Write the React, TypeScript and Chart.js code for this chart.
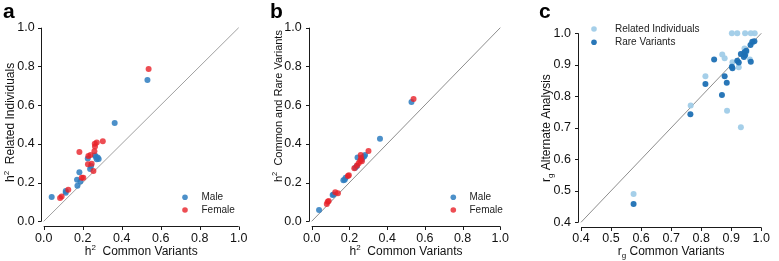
import React, { useEffect, useRef } from 'react';
import { Chart, registerables } from 'chart.js';

Chart.register(...registerables);

const FONT = 'Liberation Sans, Arial, Helvetica, sans-serif';

// ---------- Panel a : h2 Related Individuals vs h2 Common Variants ----------
const aMaleX = [0.041, 0.113, 0.113, 0.171, 0.173, 0.183, 0.188, 0.226, 0.238, 0.243, 0.263, 0.268, 0.272, 0.282, 0.277, 0.364, 0.532];
const aMaleY = [0.126, 0.157, 0.147, 0.215, 0.183, 0.253, 0.205, 0.325, 0.27, 0.286, 0.34, 0.332, 0.32, 0.322, 0.33, 0.508, 0.73];
const aFemaleX = [0.084, 0.092, 0.126, 0.183, 0.195, 0.203, 0.229, 0.24, 0.227, 0.246, 0.255, 0.26, 0.263, 0.262, 0.272, 0.303, 0.538];
const aFemaleY = [0.12, 0.128, 0.163, 0.358, 0.225, 0.225, 0.337, 0.342, 0.295, 0.297, 0.26, 0.362, 0.386, 0.4, 0.407, 0.413, 0.787];

// ---------- Panel b : h2 Common and Rare Variants vs h2 Common Variants ----------
const bMaleX = [0.039, 0.111, 0.116, 0.168, 0.175, 0.18, 0.231, 0.24, 0.243, 0.266, 0.27, 0.283, 0.278, 0.362, 0.529];
const bMaleY = [0.058, 0.136, 0.138, 0.212, 0.215, 0.225, 0.277, 0.285, 0.33, 0.32, 0.33, 0.343, 0.335, 0.427, 0.616];
const bFemaleX = [0.08, 0.085, 0.09, 0.125, 0.139, 0.192, 0.197, 0.226, 0.24, 0.249, 0.257, 0.262, 0.26, 0.266, 0.301, 0.54];
const bFemaleY = [0.09, 0.101, 0.105, 0.15, 0.145, 0.234, 0.238, 0.274, 0.288, 0.3, 0.313, 0.326, 0.343, 0.31, 0.363, 0.632];

// ---------- Panel c : rg Alternate Analysis vs rg Common Variants ----------
const cRelatedX = [0.575, 0.765, 0.814, 0.87, 0.878, 0.886, 0.902, 0.92, 0.946, 0.965, 0.978, 0.904, 0.925, 0.932, 0.944, 0.962, 0.95, 0.97];
const cRelatedY = [0.49, 0.771, 0.864, 0.933, 0.921, 0.754, 1.0, 1.0, 1.0, 1.0, 1.0, 0.908, 0.892, 0.702, 0.952, 0.917, 0.94, 0.97];
const cRareX = [0.575, 0.764, 0.814, 0.843, 0.869, 0.878, 0.885, 0.902, 0.904, 0.92, 0.925, 0.932, 0.944, 0.946, 0.942, 0.965, 0.964, 0.97, 0.977, 0.95];
const cRareY = [0.458, 0.743, 0.839, 0.917, 0.804, 0.864, 0.843, 0.894, 0.889, 0.913, 0.907, 0.934, 0.94, 0.93, 0.925, 0.91, 0.963, 0.973, 0.975, 0.945];

const abRange = [0, 1];
const cRange = [0.4, 1];

const MALE = 'rgba(45,125,192,0.85)';
const FEMALE = 'rgba(232,32,40,0.8)';
const RELATED = 'rgba(160,204,232,0.95)';
const RARE = 'rgba(30,112,180,0.95)';

const pts = (xs: number[], ys: number[]) => xs.map((x, i) => ({ x, y: ys[i] }));

type Part = { t: string; s: number; dy?: number };

function drawRich(ctx: CanvasRenderingContext2D, parts: Part[], x: number, y: number, rotate: boolean, align: 'center' | 'left') {
  ctx.save();
  ctx.translate(x, y);
  if (rotate) ctx.rotate(-Math.PI / 2);
  ctx.textBaseline = 'alphabetic';
  ctx.textAlign = 'left';
  let total = 0;
  for (const p of parts) {
    ctx.font = `${p.s}px ${FONT}`;
    total += ctx.measureText(p.t).width;
  }
  let cx = align === 'center' ? -total / 2 : 0;
  for (const p of parts) {
    ctx.font = `${p.s}px ${FONT}`;
    ctx.fillText(p.t, cx, p.dy || 0);
    cx += ctx.measureText(p.t).width;
  }
  ctx.restore();
}

interface LegendItem { label: string; color: string; y: number }

interface PanelCfg {
  left: number;
  width: number;
  letter: string;
  letterX: number;
  area: { left: number; right: number; top: number; bottom: number };
  range: number[];
  step: number;
  datasets: any[];
  xTitle: Part[];
  xTitleY: number;
  yTitle: Part[];
  yTitleX: number;
  yTitleStart: number;
  legend: LegendItem[];
  legendDotX: number;
  legendTextX: number;
  yTickPad: number;
  xTickPad: number;
  offL: number;
  offB: number;
}

const H = 261;

function Panel({ cfg }: { cfg: PanelCfg }) {
  const ref = useRef<HTMLCanvasElement | null>(null);
  useEffect(() => {
    const canvas = ref.current!;
    const decor = {
      id: 'decor',
      afterDraw(chart: any) {
        const ctx: CanvasRenderingContext2D = chart.ctx;
        const xs = chart.scales.x;
        const ys = chart.scales.y;
        const ca = chart.chartArea;
        ctx.save();
        ctx.strokeStyle = '#1a1a1a';
        ctx.lineWidth = 1;
        // y spine
        const sx = Math.round(ca.left - cfg.offL) + 0.5;
        const yTop = ys.getPixelForValue(cfg.range[1]);
        const yBot = ys.getPixelForValue(cfg.range[0]);
        ctx.beginPath();
        ctx.moveTo(sx, yTop);
        ctx.lineTo(sx, yBot);
        for (const t of ys.ticks) {
          const py = Math.round(ys.getPixelForValue(t.value)) + 0.5;
          ctx.moveTo(sx, py);
          ctx.lineTo(sx - 3.5, py);
        }
        ctx.stroke();
        // x spine
        const sy = Math.round(ca.bottom + cfg.offB) + 0.5;
        const xL = xs.getPixelForValue(cfg.range[0]);
        const xR = xs.getPixelForValue(cfg.range[1]);
        ctx.beginPath();
        ctx.moveTo(xL, sy);
        ctx.lineTo(xR, sy);
        for (const t of xs.ticks) {
          const px = Math.round(xs.getPixelForValue(t.value)) + 0.5;
          ctx.moveTo(px, sy);
          ctx.lineTo(px, sy + 3.5);
        }
        ctx.stroke();
        // titles
        ctx.fillStyle = '#111';
        drawRich(ctx, cfg.xTitle, (ca.left + ca.right) / 2, cfg.xTitleY, false, 'center');
        drawRich(ctx, cfg.yTitle, cfg.yTitleX, cfg.yTitleStart, true, 'left');
        // legend
        for (const it of cfg.legend) {
          ctx.beginPath();
          ctx.fillStyle = it.color;
          ctx.arc(cfg.legendDotX, it.y, 2.8, 0, Math.PI * 2);
          ctx.fill();
          ctx.fillStyle = '#222';
          ctx.font = `10px ${FONT}`;
          ctx.textBaseline = 'middle';
          ctx.textAlign = 'left';
          ctx.fillText(it.label, cfg.legendTextX, it.y);
        }
        // panel letter
        ctx.fillStyle = '#000';
        ctx.font = `bold 21px ${FONT}`;
        ctx.textBaseline = 'alphabetic';
        ctx.textAlign = 'left';
        ctx.fillText(cfg.letter, cfg.letterX, 17.5);
        ctx.restore();
      },
    };
    const tickFont = { family: FONT, size: 12.5 };
    const chart = new Chart(canvas, {
      type: 'scatter',
      data: { datasets: cfg.datasets },
      options: {
        responsive: false,
        animation: false,
        devicePixelRatio: 1,
        layout: { padding: { left: 0, right: cfg.width - cfg.area.right, top: cfg.area.top, bottom: 0 } },
        plugins: { legend: { display: false }, tooltip: { enabled: false }, title: { display: false } },
        scales: {
          x: {
            type: 'linear',
            min: cfg.range[0],
            max: cfg.range[1],
            border: { display: false },
            grid: { display: false, drawTicks: false },
            ticks: {
              stepSize: cfg.step,
              padding: cfg.xTickPad,
              font: tickFont,
              color: '#111',
              maxRotation: 0,
              autoSkip: false,
              callback: (v: any) => Number(v).toFixed(1),
            },
            afterFit: (s: any) => {
              s.height = H - cfg.area.bottom;
            },
          },
          y: {
            type: 'linear',
            min: cfg.range[0],
            max: cfg.range[1],
            border: { display: false },
            grid: { display: false, drawTicks: false },
            ticks: {
              stepSize: cfg.step,
              padding: cfg.yTickPad,
              font: tickFont,
              color: '#111',
              autoSkip: false,
              callback: (v: any) => Number(v).toFixed(1),
            },
            afterFit: (s: any) => {
              s.width = cfg.area.left;
            },
          },
        },
      } as any,
      plugins: [decor],
    });
    return () => chart.destroy();
  }, [cfg]);
  return (
    <canvas
      ref={ref}
      width={cfg.width}
      height={H}
      style={{ position: 'absolute', left: cfg.left, top: 0, width: cfg.width, height: H }}
    />
  );
}

const diag = (r: number[], color: string, w: number) => ({
  data: [
    { x: r[0], y: r[0] },
    { x: r[1], y: r[1] },
  ],
  showLine: true,
  borderColor: color,
  borderWidth: w,
  pointRadius: 0,
  clip: false,
  order: 5,
});

const dots = (data: { x: number; y: number }[], color: string, order: number) => ({
  data,
  backgroundColor: color,
  borderWidth: 0,
  pointRadius: 3,
  clip: false,
  order,
});

const panelA: PanelCfg = {
  left: 0,
  width: 260,
  letter: 'a',
  letterX: 3,
  area: { left: 43.7, right: 238.7, top: 27.7, bottom: 221.3 },
  range: abRange,
  step: 0.2,
  datasets: [diag(abRange, '#a0a0a0', 1), dots(pts(aMaleX, aMaleY), MALE, 2), dots(pts(aFemaleX, aFemaleY), FEMALE, 1)],
  xTitle: [{ t: 'h', s: 12 }, { t: '2', s: 8, dy: -5 }, { t: '  Common Variants', s: 12 }],
  xTitleY: 255,
  yTitle: [{ t: 'h', s: 12 }, { t: '2', s: 8, dy: -5 }, { t: '  Related Individuals', s: 12 }],
  yTitleX: 13.5,
  yTitleStart: 182,
  legend: [
    { label: 'Male', color: MALE, y: 197.3 },
    { label: 'Female', color: FEMALE, y: 210 },
  ],
  legendDotX: 185,
  legendTextX: 201.5,
  yTickPad: 9,
  xTickPad: 10,
  offL: 3,
  offB: 4.5,
};

const panelB: PanelCfg = {
  left: 260,
  width: 259,
  letter: 'b',
  letterX: 10,
  area: { left: 51.7, right: 246, top: 27.7, bottom: 221.3 },
  range: abRange,
  step: 0.2,
  datasets: [diag(abRange, '#707070', 0.8), dots(pts(bMaleX, bMaleY), MALE, 2), dots(pts(bFemaleX, bFemaleY), FEMALE, 1)],
  xTitle: [{ t: 'h', s: 12 }, { t: '2', s: 8, dy: -5 }, { t: '  Common Variants', s: 12 }],
  xTitleY: 255,
  yTitle: [{ t: 'h', s: 11 }, { t: '2', s: 7.5, dy: -4.5 }, { t: '  Common and Rare Variants', s: 11 }],
  yTitleX: 21.5,
  yTitleStart: 182,
  legend: [
    { label: 'Male', color: MALE, y: 197.3 },
    { label: 'Female', color: FEMALE, y: 210 },
  ],
  legendDotX: 193.3,
  legendTextX: 209.5,
  yTickPad: 10,
  xTickPad: 10,
  offL: 3,
  offB: 4.5,
};

const panelC: PanelCfg = {
  left: 519,
  width: 260,
  letter: 'c',
  letterX: 20,
  area: { left: 62, right: 251.3, top: 33.3, bottom: 222.3 },
  range: cRange,
  step: 0.1,
  datasets: [diag(cRange, '#707070', 0.8), dots(pts(cRelatedX, cRelatedY), RELATED, 2), dots(pts(cRareX, cRareY), RARE, 1)],
  xTitle: [{ t: 'r', s: 12 }, { t: 'g', s: 8, dy: 3 }, { t: ' Common Variants', s: 12 }],
  xTitleY: 255,
  yTitle: [{ t: 'r', s: 12 }, { t: 'g', s: 8, dy: 3 }, { t: ' Alternate Analysis', s: 12 }],
  yTitleX: 31,
  yTitleStart: 182,
  legend: [
    { label: 'Related Individuals', color: RELATED, y: 29 },
    { label: 'Rare Variants', color: RARE, y: 42.3 },
  ],
  legendDotX: 75,
  legendTextX: 96,
  yTickPad: 10,
  xTickPad: 9,
  offL: 3,
  offB: 4.4,
};

export default function App() {
  return (
    <div style={{ position: 'fixed', left: 0, top: 0, width: 779, height: 261, background: '#fff', overflow: 'hidden' }}>
      <Panel cfg={panelA} />
      <Panel cfg={panelB} />
      <Panel cfg={panelC} />
    </div>
  );
}
